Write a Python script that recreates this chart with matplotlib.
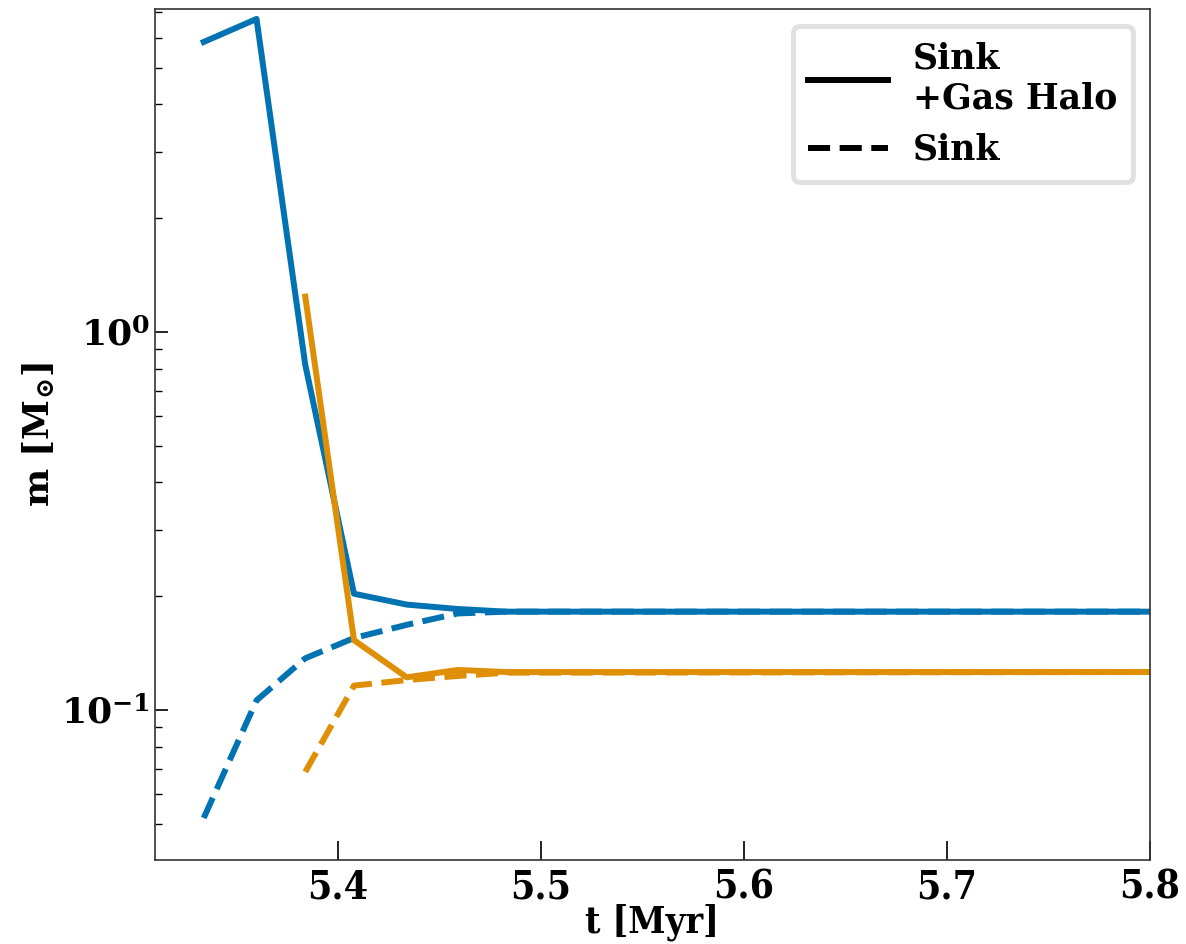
import matplotlib
matplotlib.use("Agg")
import matplotlib.pyplot as plt
from matplotlib.lines import Line2D
from matplotlib.ticker import FixedLocator

plt.rcParams['font.family'] = ['DejaVu Serif']
plt.rcParams['font.weight'] = 'bold'
plt.rcParams['mathtext.fontset'] = 'dejavuserif'
plt.rcParams['mathtext.default'] = 'bf'

# data (time in Myr, mass in Msun)
t_blue = [5.334, 5.360, 5.384, 5.408, 5.434, 5.459, 5.483, 5.8]
blue_total = [5.85, 6.73, 0.818, 0.203, 0.190, 0.185, 0.182, 0.182]
blue_sink = [0.0518, 0.106, 0.137, 0.155, 0.168, 0.180, 0.182, 0.182]
t_orange = [5.384, 5.408, 5.434, 5.459, 5.483, 5.8]
orange_total = [1.24, 0.153, 0.122, 0.1276, 0.126, 0.126]
orange_sink = [0.0686, 0.116, 0.120, 0.123, 0.1255, 0.126]

xticks = [5.4, 5.5, 5.6, 5.7, 5.8]
legend_labels = ['Sink\n+Gas Halo', 'Sink']

BLUE = '#0173b2'
ORANGE = '#de8f05'
LW = 4.3

fig = plt.figure(figsize=(11.86, 9.44), dpi=100)
ax = fig.add_axes([155/1186, 1 - 860/944, (1150-155)/1186, (860-9)/944])

ax.plot(t_blue, blue_total, color=BLUE, lw=LW)
ax.plot(t_blue, blue_sink, color=BLUE, lw=LW, ls='--')
ax.plot(t_orange, orange_total, color=ORANGE, lw=LW)
ax.plot(t_orange, orange_sink, color=ORANGE, lw=LW, ls='--')

ax.set_yscale('log')
ax.set_xlim(5.31, 5.8)
ax.set_ylim(0.0401, 7.15)
ax.xaxis.set_major_locator(FixedLocator(xticks))
ax.set_xticklabels([f'{v:.1f}' for v in xticks])

ax.tick_params(axis='both', which='both', direction='in', top=False, right=False,
               labelsize=26, colors='black')
ax.tick_params(axis='both', which='major', length=9, width=1.2)
ax.tick_params(axis='y', which='minor', length=5, width=1.0)
ax.tick_params(axis='x', which='major', length=14, pad=6)
for lab in ax.get_xticklabels():
    lab.set_fontweight('bold')
    lab.set_fontstretch('condensed')
    lab.set_fontsize(28)
for lab in ax.get_yticklabels():
    lab.set_fontweight('bold')
for s in ax.spines.values():
    s.set_color('#333333')
    s.set_linewidth(1.2)

ax.set_xlabel('t [Myr]', fontsize=27, fontweight='bold', labelpad=-2,
              fontstretch='condensed')
ax.set_ylabel(r'm [M$_{\odot}$]', fontsize=26, fontweight='bold', labelpad=3)

handles = [Line2D([], [], color='black', lw=LW),
           Line2D([], [], color='black', lw=LW, ls='--')]
leg = ax.legend(handles, legend_labels, loc='upper right', fontsize=25,
                handlelength=2.3, handletextpad=0.7, frameon=True, fancybox=True,
                borderpad=0.45, labelspacing=0.5)
leg.get_frame().set_edgecolor('#d9d9d9')
leg.get_frame().set_linewidth(3.5)
for txt in leg.get_texts():
    txt.set_fontweight('bold')

fig.savefig('out.png', dpi=100)
